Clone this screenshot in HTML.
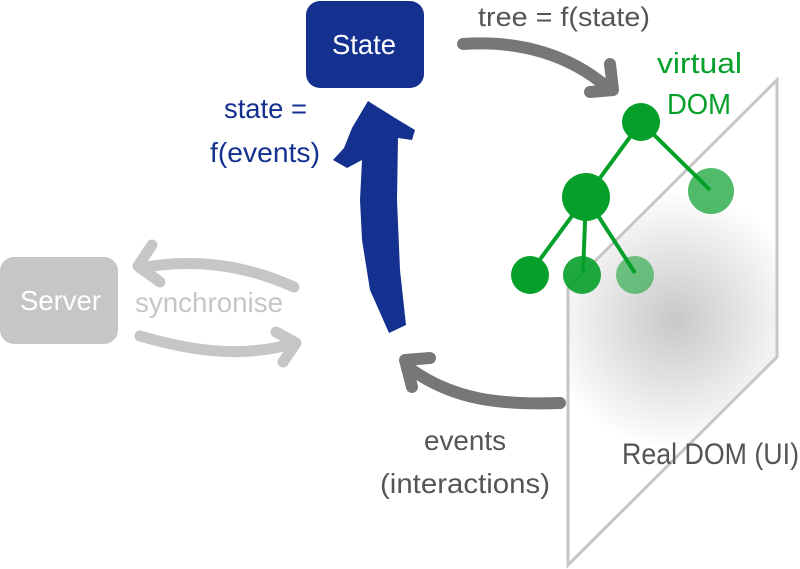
<!DOCTYPE html>
<html><head><style>
html,body{margin:0;padding:0;background:#fff;}
svg{display:block;}
text{font-family:"Liberation Sans",sans-serif;}
</style></head><body>
<svg width="800" height="569" viewBox="0 0 800 569" xmlns="http://www.w3.org/2000/svg">
<defs>
<radialGradient id="g" cx="675" cy="320" r="130" gradientUnits="userSpaceOnUse">
<stop offset="0" stop-color="#c8c8c8"/><stop offset="0.55" stop-color="#e6e6e6"/><stop offset="1" stop-color="#fff"/>
</radialGradient>
</defs>
<polygon points="568,288 777,80 777,357 568,565" fill="url(#g)" stroke="#c6c6c6" stroke-width="3"/>
<g stroke="#05a02a" stroke-width="4" fill="none">
<line x1="641" y1="122" x2="586" y2="197"/>
<line x1="641" y1="122" x2="710" y2="190"/>
<line x1="586" y1="197" x2="530" y2="273"/>
<line x1="586" y1="197" x2="583" y2="273"/>
<line x1="586" y1="197" x2="635" y2="273"/>
</g>
<circle cx="641" cy="122" r="19" fill="#05a02a"/>
<circle cx="586" cy="197" r="24" fill="#05a02a"/>
<circle cx="711" cy="191" r="23" fill="#05a02a" opacity="0.7"/>
<circle cx="530" cy="275" r="19" fill="#05a02a"/>
<circle cx="582" cy="275" r="19" fill="#05a02a" opacity="0.9"/>
<circle cx="635" cy="275" r="19" fill="#05a02a" opacity="0.55"/>
<text x="657" y="73" font-size="29" fill="#05a02a" textLength="85" lengthAdjust="spacingAndGlyphs">virtual</text>
<text x="667" y="114" font-size="29" fill="#05a02a" textLength="64" lengthAdjust="spacingAndGlyphs">DOM</text>
<rect x="306" y="1" width="118" height="87" rx="14" fill="#14318f"/>
<text x="332" y="54" font-size="28" fill="#fff" textLength="64" lengthAdjust="spacingAndGlyphs">State</text>
<path d="M463,44 C520,40 570,55 608,88" stroke="#777" stroke-width="12" fill="none" stroke-linecap="round"/>
<path d="M610,64 L613,90 L590,92" stroke="#777" stroke-width="12" fill="none" stroke-linecap="round" stroke-linejoin="round"/>
<text x="478" y="26" font-size="27" fill="#555" textLength="172" lengthAdjust="spacingAndGlyphs">tree = f(state)</text>
<path d="M368,101 L395,118 L415,130 L412,140 L398,138 L397,200 L400,270 L406,325 L389,333 L370,290 L362,240 L360,200 L362,160 L347,168 L333,160 L344,148 L352,128 Z" fill="#14318f"/>
<text x="224" y="118" font-size="28" fill="#14318f" textLength="83" lengthAdjust="spacingAndGlyphs">state =</text>
<text x="210" y="162" font-size="28" fill="#14318f" textLength="110" lengthAdjust="spacingAndGlyphs">f(events)</text>
<path d="M560,403 C500,405 455,400 412,370" stroke="#777" stroke-width="12" fill="none" stroke-linecap="round"/>
<path d="M430,358 L405,360 L412,387" stroke="#777" stroke-width="12" fill="none" stroke-linecap="round" stroke-linejoin="round"/>
<text x="424" y="450" font-size="28" fill="#555" textLength="82" lengthAdjust="spacingAndGlyphs">events</text>
<text x="380" y="493" font-size="28" fill="#555" textLength="170" lengthAdjust="spacingAndGlyphs">(interactions)</text>
<text x="622" y="464" font-size="30" fill="#555" textLength="177" lengthAdjust="spacingAndGlyphs">Real DOM (UI)</text>
<rect x="0" y="257" width="118" height="87" rx="14" fill="#c6c6c6"/>
<text x="20" y="310" font-size="28" fill="#fff" textLength="81" lengthAdjust="spacingAndGlyphs">Server</text>
<text x="135" y="312" font-size="28" fill="#c6c6c6" textLength="148" lengthAdjust="spacingAndGlyphs">synchronise</text>
<path d="M294,287 C245,265 195,258 140,268" stroke="#c6c6c6" stroke-width="11" fill="none" stroke-linecap="round"/>
<path d="M152,245 L138,266 L160,282" stroke="#c6c6c6" stroke-width="11" fill="none" stroke-linecap="round" stroke-linejoin="round"/>
<path d="M140,336 C195,352 245,358 295,343" stroke="#c6c6c6" stroke-width="11" fill="none" stroke-linecap="round"/>
<path d="M276,332 L296,343 L283,362" stroke="#c6c6c6" stroke-width="11" fill="none" stroke-linecap="round" stroke-linejoin="round"/>
</svg>
</body></html>
